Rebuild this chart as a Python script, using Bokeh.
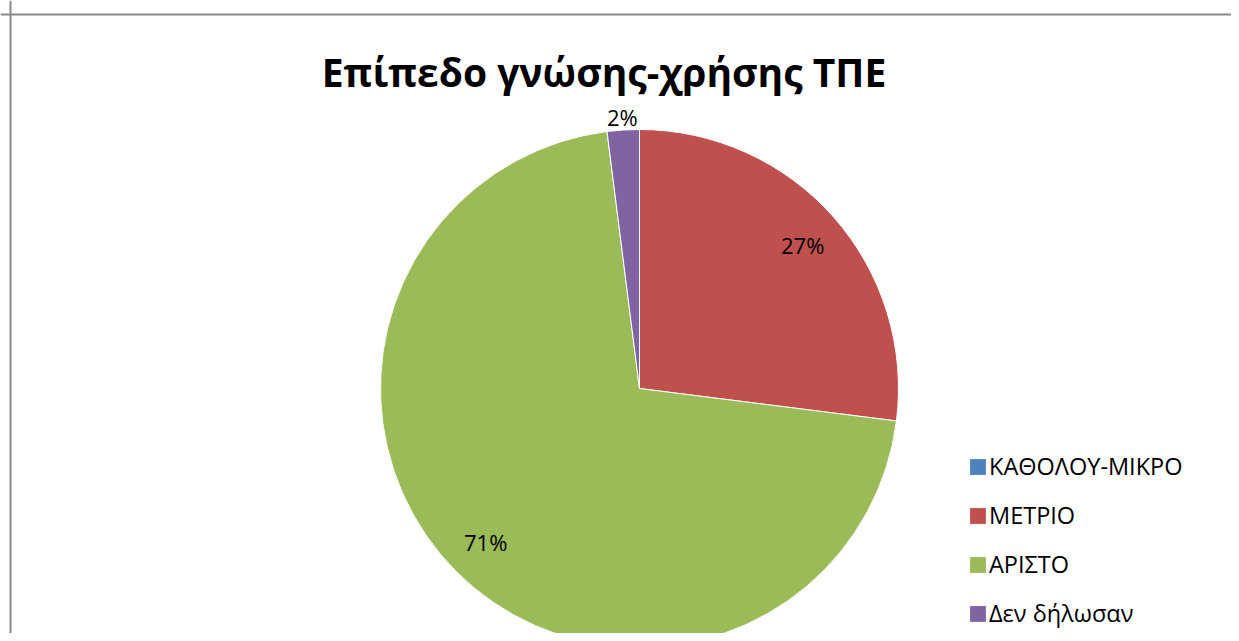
import math
from bokeh.plotting import figure
from bokeh.models import Range1d, Span, Label, Legend, LegendItem, ColumnDataSource
from bokeh.core.properties import value as val
from bokeh.embed import file_html
from bokeh.resources import INLINE

# ---- data ----
title_text = "Επίπεδο γνώσης-χρήσης ΤΠΕ"
categories = ["ΚΑΘΟΛΟΥ-ΜΙΚΡΟ", "ΜΕΤΡΙΟ", "ΑΡΙΣΤΟ", "Δεν δήλωσαν"]
values = [0, 27, 71, 2]
colors = ["#4F81BD", "#C0504D", "#9BBB59", "#8064A2"]

# ---- layout (pixel-like data space) ----
W, H = 1231, 633
cx, cy, r = 639, 245, 259
FONT = "Open Sans"

total = float(sum(values))
starts, ends, lx, ly, ltxt = [], [], [], [], []
cum = 0.0
for v in values:
    a0 = math.pi / 2 - 2 * math.pi * cum / total
    cum += v
    a1 = math.pi / 2 - 2 * math.pi * cum / total
    starts.append(a0)
    ends.append(a1)
    mid = (a0 + a1) / 2
    frac = v / total
    rr = r * (0.84 if frac >= 0.05 else 1.05)
    lx.append(cx + rr * math.cos(mid))
    ly.append(cy + rr * math.sin(mid))
    ltxt.append(f"{round(100 * frac)}%" if v > 0 else "")

src = ColumnDataSource(dict(cat=categories, val=values, color=colors,
                            start=starts, end=ends))
lab_src = ColumnDataSource(dict(x=lx, y=ly, t=ltxt))

p = figure(width=W, height=H, x_range=Range1d(0, W), y_range=Range1d(0, H),
           min_border=0, toolbar_location=None, output_backend="svg")
p.axis.visible = False
p.grid.visible = False
p.outline_line_color = None
p.background_fill_color = "white"
p.border_fill_color = "white"

# chart border (left and top edges visible)
p.add_layout(Span(location=10, dimension="height", line_color="#8A8A8A", line_width=2))
p.add_layout(Span(location=619, dimension="width", line_color="#8A8A8A", line_width=2))

w = p.wedge(x=cx, y=cy, radius=r, start_angle="start", end_angle="end",
            direction="clock", fill_color="color", line_color="white",
            line_width=1, source=src)

p.text(x="x", y="y", text="t", source=lab_src, text_align="center",
       text_baseline="middle", text_font=val(FONT), text_font_size="22px",
       text_color="black")

p.add_layout(Label(x=603.5, y=562, text=title_text, text_align="center",
                   text_baseline="alphabetic", text_font=FONT,
                   text_font_size="39px", text_font_style="bold",
                   text_color="black"))

items = [LegendItem(label=c, renderers=[w], index=i) for i, c in enumerate(categories)]
legend = Legend(items=items, location=(967, 4), orientation="vertical",
                glyph_width=21, glyph_height=21, label_standoff=1,
                spacing=17, padding=0, margin=0,
                label_text_font=FONT, label_text_font_size="23.5px",
                label_text_color="black",
                border_line_alpha=0, background_fill_alpha=0)
p.add_layout(legend)

open("out.html", "w").write(file_html(p, INLINE))
